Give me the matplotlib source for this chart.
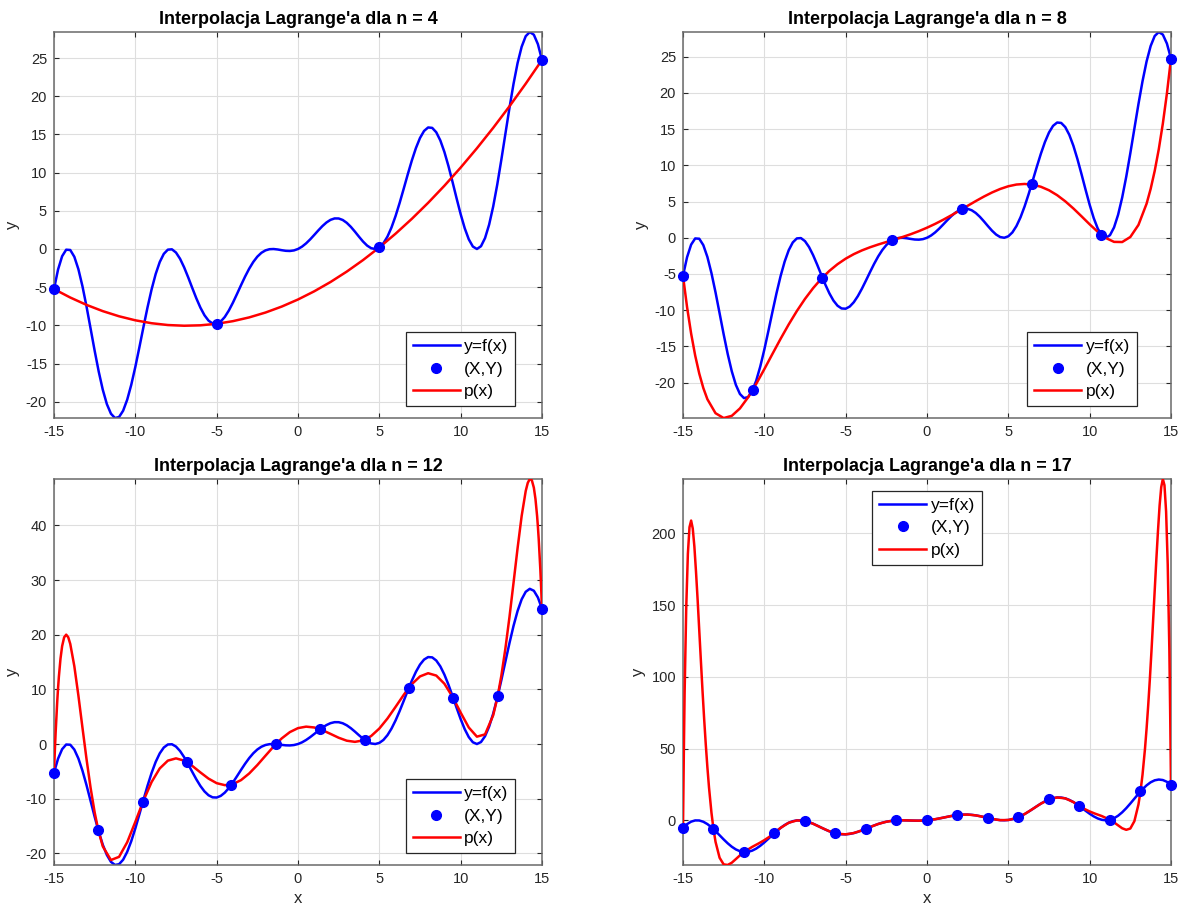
import matplotlib.pyplot as plt

plt.rcParams['font.family'] = ['Liberation Sans', 'DejaVu Sans']
plt.rcParams['axes.unicode_minus'] = False

# y = f(x), sampled every 0.25 on [-15, 15]
F_X = [-15.0, -14.75, -14.5, -14.25, -14.0, -13.75, -13.5, -13.25, -13.0, -12.75,
       -12.5, -12.25, -12.0, -11.75, -11.5, -11.25, -11.0, -10.75, -10.5, -10.25,
       -10.0, -9.75, -9.5, -9.25, -9.0, -8.75, -8.5, -8.25, -8.0, -7.75,
       -7.5, -7.25, -7.0, -6.75, -6.5, -6.25, -6.0, -5.75, -5.5, -5.25,
       -5.0, -4.75, -4.5, -4.25, -4.0, -3.75, -3.5, -3.25, -3.0, -2.75,
       -2.5, -2.25, -2.0, -1.75, -1.5, -1.25, -1.0, -0.75, -0.5, -0.25,
       0.0, 0.25, 0.5, 0.75, 1.0, 1.25, 1.5, 1.75, 2.0, 2.25,
       2.5, 2.75, 3.0, 3.25, 3.5, 3.75, 4.0, 4.25, 4.5, 4.75,
       5.0, 5.25, 5.5, 5.75, 6.0, 6.25, 6.5, 6.75, 7.0, 7.25,
       7.5, 7.75, 8.0, 8.25, 8.5, 8.75, 9.0, 9.25, 9.5, 9.75,
       10.0, 10.25, 10.5, 10.75, 11.0, 11.25, 11.5, 11.75, 12.0, 12.25,
       12.5, 12.75, 13.0, 13.25, 13.5, 13.75, 14.0, 14.25, 14.5, 14.75, 15.0]
F_Y = [-5.246, -2.683, -0.944, -0.091, -0.132, -1.018, -2.649, -4.881, -7.537, -10.422,
       -13.330, -16.062, -18.439, -20.312, -21.568, -22.138, -22.000, -21.178, -19.737, -17.781,
       -15.440, -12.865, -10.213, -7.641, -5.291, -3.284, -1.713, -0.639, -0.085, -0.042,
       -0.465, -1.283, -2.401, -3.713, -5.102, -6.458, -7.676, -8.673, -9.380, -9.759,
       -9.795, -9.497, -8.899, -8.054, -7.027, -5.894, -4.728, -3.602, -2.577, -1.700,
       -1.004, -0.499, -0.181, -0.028, -0.004, -0.064, -0.158, -0.239, -0.260, -0.188,
       0.000, 0.312, 0.740, 1.261, 1.842, 2.436, 2.996, 3.472, 3.819, 4.001,
       3.996, 3.800, 3.423, 2.898, 2.272, 1.607, 0.973, 0.446, 0.101, 0.003,
       0.206, 0.741, 1.620, 2.827, 4.324, 6.043, 7.898, 9.788, 11.599, 13.217,
       14.535, 15.458, 15.915, 15.861, 15.287, 14.216, 12.709, 10.859, 8.787, 6.635,
       4.560, 2.719, 1.263, 0.323, 0.000, 0.362, 1.432, 3.188, 5.561, 8.438,
       11.670, 15.078, 18.463, 21.619, 24.351, 26.483, 27.868, 28.409, 28.056, 26.817, 24.755]

# n = 4
N4_X = [-15.0, -5.0, 5.0, 15.0]
N4_Y = [-5.246, -9.795, 0.206, 24.755]
P4_X = [-15, -14, -13, -12, -11, -10, -9, -8, -7, -6, -5, -4, -3, -2, -1, 0,
        1, 2, 3, 4, 5, 6, 7, 8, 9, 10, 11, 12, 13, 14, 15]
P4_Y = [-5.246, -6.356, -7.320, -8.138, -8.812, -9.339, -9.721, -9.958, -10.049, -9.995,
        -9.795, -9.450, -8.959, -8.322, -7.541, -6.613, -5.540, -4.322, -2.958, -1.449,
        0.206, 2.007, 3.952, 6.044, 8.280, 10.663, 13.191, 15.864, 18.683, 21.647, 24.757]

# n = 8
N8_X = [-15.0, -10.714, -6.429, -2.143, 2.143, 6.429, 10.714, 15.0]
N8_Y = [-5.246, -21.007, -5.497, -0.341, 3.945, 7.360, 0.421, 24.755]
P8_X = [-15, -14.75, -14.5, -14.25, -14, -13.75, -13.5, -13, -12.5, -12, -11.5, -11,
        -10.5, -10, -9.5, -9, -8.5, -8, -7.5, -7, -6.5, -6, -5.5, -5, -4.5, -4, -3.5,
        -3, -2.5, -2, -1.5, -1, -0.5, 0, 0.5, 1, 1.5, 2, 2.5, 3, 3.5, 4, 4.5, 5, 5.5,
        6, 6.5, 7, 7.5, 8, 8.5, 9, 9.5, 10, 10.5, 11, 11.5, 12, 12.5, 13, 13.5, 13.75,
        14, 14.25, 14.5, 14.75, 15]
P8_Y = [-5.246, -9.570, -13.223, -16.268, -18.756, -20.751, -22.295, -24.225, -24.892,
        -24.587, -23.565, -22.038, -20.180, -18.141, -16.033, -13.951, -11.961, -10.113,
        -8.438, -6.954, -5.665, -4.567, -3.647, -2.885, -2.259, -1.742, -1.309, -0.931,
        -0.584, -0.243, 0.110, 0.493, 0.918, 1.392, 1.918, 2.493, 3.110, 3.757, 4.416,
        5.069, 5.691, 6.258, 6.741, 7.115, 7.353, 7.433, 7.335, 7.046, 6.562, 5.887,
        5.039, 4.049, 2.967, 1.860, 0.820, -0.038, -0.565, -0.587, 0.108, 1.775, 4.705,
        6.749, 9.244, 12.232, 15.777, 19.930, 24.754]

# n = 12
N12_X = [-15.0, -12.273, -9.545, -6.818, -4.091, -1.364, 1.364, 4.091, 6.818, 9.545, 12.273, 15.0]
N12_Y = [-5.246, -15.825, -10.695, -3.342, -7.417, -0.029, 2.699, 0.765, 10.294, 8.396, 8.721, 24.755]
P12_X = [-15, -14.95, -14.9, -14.8, -14.75, -14.7, -14.6, -14.5, -14.375, -14.25,
         -14.125, -14, -13.75, -13.5, -13.25, -13, -12.75, -12.5, -12.273, -12,
         -11.5, -11, -10.5, -10, -9.545, -9.5, -9, -8.5, -8, -7.5,
         -7, -6.818, -6.5, -6, -5.5, -5, -4.5, -4.091, -4, -3.5,
         -3, -2.5, -2, -1.5, -1.364, -1, -0.5, 0, 0.5, 1,
         1.364, 1.5, 2, 2.5, 3, 3.5, 4, 4.091, 4.5, 5,
         5.5, 6, 6.5, 6.818, 7, 7.5, 8, 8.5, 9, 9.5,
         9.545, 10, 10.5, 11, 11.5, 12, 12.25, 12.273, 12.5, 12.75,
         13, 13.25, 13.5, 13.75, 14, 14.125, 14.25, 14.375, 14.5, 14.6,
         14.7, 14.75, 14.8, 14.9, 14.95, 15]
P12_Y = [-5.246, -1.398, 2.052, 7.855, 10.248, 12.329, 15.636, 17.922, 19.544, 20.017,
         19.546, 18.320, 14.241, 8.862, 2.993, -2.772, -8.030, -12.525, -15.825, -18.739,
         -21.236, -20.653, -17.979, -14.247, -10.695, -10.353, -6.959, -4.469, -3.040, -2.627,
         -3.040, -3.342, -4.000, -5.195, -6.331, -7.165, -7.529, -7.417, -7.341, -6.603,
         -5.394, -3.850, -2.145, -0.461, -0.029, 1.028, 2.182, 2.910, 3.182, 3.028,
         2.699, 2.539, 1.855, 1.150, 0.606, 0.397, 0.659, 0.765, 1.471, 2.835,
         4.669, 6.805, 9.000, 10.294, 10.960, 12.373, 12.960, 12.531, 11.041, 8.647,
         8.396, 5.753, 3.021, 1.347, 1.764, 5.261, 8.389, 8.721, 12.475, 17.470,
         23.228, 29.493, 35.862, 41.741, 46.320, 47.796, 48.517, 48.294, 46.922, 44.836,
         41.729, 39.748, 37.455, 31.852, 28.502, 24.755]

# n = 17
N17_X = [-15.0, -13.125, -11.25, -9.375, -7.5, -5.625, -3.75, -1.875, 0.0,
         1.875, 3.75, 5.625, 7.5, 9.375, 11.25, 13.125, 15.0]
N17_Y = [-5.246, -6.168, -22.138, -8.909, -0.465, -9.066, -5.893, -0.086, 0.0,
         3.664, 1.607, 2.184, 14.535, 9.841, 0.362, 20.082, 24.755]
P17_X = [-15, -14.95, -14.9, -14.8, -14.7, -14.6, -14.5, -14.4, -14.3, -14.2,
         -14.1, -14, -13.9, -13.8, -13.7, -13.6, -13.5, -13.4, -13.25, -13.125,
         -13, -12.75, -12.5, -12.25, -12, -11.75, -11.5, -11.25, -10.75, -10.3125,
         -10, -9.75, -9.375, -9, -8.5, -8, -7.5, -7, -6.5, -6,
         -5.5, -5, -4.5, -4, -3.5, -3, -2.5, -2, -1.5, -1,
         -0.5, 0, 0.5, 1, 1.5, 2, 2.5, 3, 3.5, 4,
         4.5, 5, 5.5, 6, 6.5, 7, 7.5, 8, 8.5, 9,
         9.375, 9.75, 10, 10.3125, 10.75, 11.25, 11.5, 11.75, 12, 12.25,
         12.5, 12.75, 13, 13.125, 13.25, 13.4, 13.5, 13.6, 13.7, 13.8,
         13.9, 14, 14.1, 14.2, 14.3, 14.4, 14.5, 14.6, 14.7, 14.8,
         14.9, 14.95, 15]
P17_Y = [-5.246, 45.541, 89.062, 148.649, 185.779, 204.332, 208.931, 203.405, 190.825, 173.219,
         153.595, 132.343, 111.126, 90.271, 70.768, 52.920, 36.890, 22.791, 5.260, -6.168,
         -15.004, -26.121, -30.753, -31.142, -29.566, -27.038, -24.469, -22.138, -18.566, -15.904,
         -13.840, -11.970, -8.909, -5.291, -1.713, -0.085, -0.465, -2.401, -5.102, -7.676,
         -9.380, -9.795, -8.899, -7.027, -4.728, -2.577, -1.004, -0.181, -0.004, -0.158,
         -0.260, 0.000, 0.740, 1.842, 2.996, 3.819, 3.996, 3.423, 2.272, 0.973,
         0.101, 0.206, 1.620, 4.324, 7.898, 11.599, 14.535, 15.915, 15.287, 12.709,
         9.841, 7.530, 6.160, 4.721, 2.934, 0.362, -1.469, -3.538, -5.566, -6.642,
         -5.753, -0.621, 10.996, 20.082, 31.760, 49.591, 63.890, 80.120, 98.168, 117.871,
         138.926, 160.343, 181.795, 201.619, 219.425, 232.205, 237.931, 233.532, 215.179, 178.249,
         118.862, 75.441, 24.755]

N_VALUES = [4, 8, 12, 17]
X_TICKS = [-15, -10, -5, 0, 5, 10, 15]
Y_TICKS_SMALL = [-20, -15, -10, -5, 0, 5, 10, 15, 20, 25]
Y_TICKS_12 = [-20, -10, 0, 10, 20, 30, 40]
Y_TICKS_17 = [0, 50, 100, 150, 200]


def panel(ax, n, nx, ny, px, py, yticks, loc, anchor, show_xlabel):
    ax.plot(F_X, F_Y, color='#0000ff', lw=1.8, label='y=f(x)', zorder=2)
    ax.plot(nx, ny, 'o', color='#0000ff', ms=7, label='(X,Y)', zorder=4, clip_on=False)
    ax.plot(px, py, color='#ff0000', lw=1.8, label='p(x)', zorder=3)

    ax.set_xlim(-15, 15)
    ax.set_ylim(min(min(F_Y), min(py)), max(max(F_Y), max(py)))
    ax.set_xticks(X_TICKS)
    ax.set_yticks(yticks)
    ax.grid(True, color='#dedede', lw=0.8)
    ax.set_axisbelow(True)
    ax.tick_params(direction='in', top=True, right=True, length=3.5, width=0.8,
                   labelsize=10.5, colors='#262626', pad=5)
    for s in ax.spines.values():
        s.set_color('#6a6a6a')
        s.set_linewidth(1.1)

    ax.set_title("Interpolacja Lagrange'a dla n = %d" % n, fontsize=13,
                 fontweight='bold', pad=6)
    ax.set_ylabel('y', fontsize=12, color='#262626')
    if show_xlabel:
        ax.set_xlabel('x', fontsize=12, color='#262626')

    leg = ax.legend(loc=loc, bbox_to_anchor=anchor, borderaxespad=0, fontsize=12.5,
                    fancybox=False, framealpha=1, edgecolor='#262626',
                    handlelength=2.7, handletextpad=0.25, borderpad=0.4,
                    labelspacing=0.42)
    leg.get_frame().set_linewidth(0.9)


fig = plt.figure(figsize=(11.79, 9.08), dpi=100)

ax1 = fig.add_axes([0.0458, 0.5396, 0.4139, 0.4251])
ax2 = fig.add_axes([0.5793, 0.5396, 0.4139, 0.4251])
ax3 = fig.add_axes([0.0458, 0.0474, 0.4139, 0.4251])
ax4 = fig.add_axes([0.5793, 0.0474, 0.4139, 0.4251])

panel(ax1, N_VALUES[0], N4_X, N4_Y, P4_X, P4_Y, Y_TICKS_SMALL, 'lower right', (0.945, 0.031), False)
panel(ax2, N_VALUES[1], N8_X, N8_Y, P8_X, P8_Y, Y_TICKS_SMALL, 'lower right', (0.93, 0.031), False)
panel(ax3, N_VALUES[2], N12_X, N12_Y, P12_X, P12_Y, Y_TICKS_12, 'lower right', (0.945, 0.031), True)
panel(ax4, N_VALUES[3], N17_X, N17_Y, P17_X, P17_Y, Y_TICKS_17, 'upper center', (0.5, 0.969), True)

fig.savefig('out.png', dpi=100)
